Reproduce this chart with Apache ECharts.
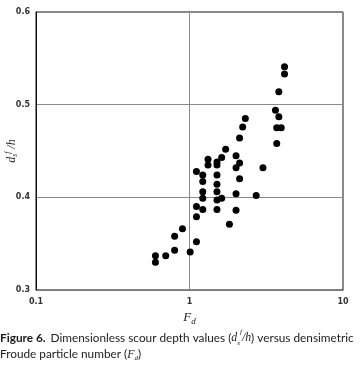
<!DOCTYPE html>
<html>
<head>
<meta charset="utf-8">
<script src="https://cdn.jsdelivr.net/npm/echarts@6/dist/echarts.min.js"></script>
<style>
  html, body { margin: 0; padding: 0; background: #fff; }
  #chart { width: 363px; height: 368px; }
</style>
</head>
<body>
<div id="chart"></div>
<script>
// densimetric Froude number (Fd) and scour depth ratio (ds/h)
var fdValues = [
  4.16, 4.16, 3.82, 3.63, 3.82, 3.70, 3.96, 3.70,
  2.31, 2.22, 2.12, 1.72, 1.62, 2.01, 1.32, 1.32,
  1.51, 1.51, 2.12, 2.01, 3.01, 1.11, 1.22, 1.51,
  1.22, 2.12, 1.51, 1.22, 1.51, 2.01, 2.72, 1.22,
  1.51, 1.62, 1.11, 1.22, 1.51, 2.01, 1.11, 1.82,
  0.90, 0.80, 1.11, 0.80, 1.01, 0.70, 0.60, 0.60
]
var depthValues = [
  0.541, 0.533, 0.514, 0.494, 0.487, 0.475, 0.475, 0.458,
  0.485, 0.476, 0.464, 0.452, 0.443, 0.445, 0.441, 0.435,
  0.438, 0.435, 0.437, 0.432, 0.432, 0.428, 0.424, 0.424,
  0.417, 0.420, 0.414, 0.406, 0.406, 0.404, 0.402, 0.399,
  0.397, 0.399, 0.390, 0.387, 0.387, 0.386, 0.379, 0.371,
  0.366, 0.358, 0.352, 0.343, 0.341, 0.337, 0.337, 0.330
]
var yTicks = [0.3, 0.4, 0.5, 0.6]

var points = fdValues.map(function (fd, i) {
  return [fd, depthValues[i]]
})

var myChart = echarts.init(document.getElementById('chart'))
var option = {
  animation: false,
  backgroundColor: '#fff',
  title: {
    left: 0,
    top: 329,
    padding: 0,
    text: '{b|Figure 6.} {n|Dimensionless scour depth values (}{i|d}{sub|s}{sup|f}{i|/h}{n|) versus densimetric}\n{n|Froude particle number (}{i|F}{sub|d}{n|)}',
    textStyle: {
      fontWeight: 'normal',
      rich: {
        b: { fontFamily: 'Lato', fontSize: 11.8, fontWeight: 'bold', color: '#1a1a1a', lineHeight: 15 },
        n: { fontFamily: 'Lato', fontSize: 11.8, fontWeight: 'normal', color: '#222', lineHeight: 15 },
        i: { fontFamily: 'Liberation Serif', fontStyle: 'italic', fontWeight: 'normal', fontSize: 11.8, color: '#222', lineHeight: 15 },
        sub: { fontFamily: 'Liberation Serif', fontStyle: 'italic', fontWeight: 'normal', fontSize: 7, color: '#222', lineHeight: 15, verticalAlign: 'bottom' },
        sup: { fontFamily: 'Liberation Serif', fontStyle: 'italic', fontWeight: 'normal', fontSize: 7, color: '#222', lineHeight: 15, verticalAlign: 'top' }
      }
    }
  },
  grid: {
    left: 36,
    right: 20,
    top: 12,
    bottom: 78,
    outerBoundsMode: 'none',
    show: true,
    borderColor: '#111',
    borderWidth: 1
  },
  xAxis: {
    type: 'log',
    logBase: 10,
    min: 0.1,
    max: 10,
    name: '{F|F}{d|d}',
    nameLocation: 'middle',
    nameGap: 20,
    nameMoveOverlap: false,
    nameTextStyle: {
      rich: {
        F: { fontFamily: 'Liberation Serif', fontStyle: 'italic', fontSize: 13, color: '#222', lineHeight: 16 },
        d: { fontFamily: 'Liberation Serif', fontStyle: 'italic', fontSize: 9, color: '#222', lineHeight: 16, verticalAlign: 'bottom' }
      }
    },
    axisLine: { show: true, lineStyle: { color: '#777' } },
    axisTick: { show: false },
    axisLabel: {
      margin: 8,
      fontSize: 8,
      fontWeight: 'bold',
      fontFamily: 'DejaVu Sans',
      color: '#333',
      formatter: function (v) { return String(+v.toFixed(1)) }
    },
    splitLine: { show: true, lineStyle: { color: '#8a8a8a', width: 1 } },
    minorTick: { show: false },
    minorSplitLine: { show: false }
  },
  yAxis: {
    type: 'value',
    min: 0.3,
    max: 0.6,
    interval: 0.1,
    name: '{i|d}{sub|s}{sup|f}{i| /h}',
    nameLocation: 'middle',
    nameGap: 17,
    nameMoveOverlap: false,
    nameTextStyle: {
      rich: {
        i: { fontFamily: 'Liberation Serif', fontStyle: 'italic', fontSize: 12, color: '#222', lineHeight: 15 },
        sub: { fontFamily: 'Liberation Serif', fontStyle: 'italic', fontSize: 7.5, color: '#222', lineHeight: 15, verticalAlign: 'bottom' },
        sup: { fontFamily: 'Liberation Serif', fontStyle: 'italic', fontSize: 7.5, color: '#222', lineHeight: 15, verticalAlign: 'top' }
      }
    },
    axisLine: { show: true, lineStyle: { color: '#111' } },
    axisTick: { show: false },
    axisLabel: {
      margin: 6,
      fontSize: 8,
      fontWeight: 'bold',
      fontFamily: 'DejaVu Sans',
      color: '#333',
      customValues: yTicks,
      formatter: function (v) { return v.toFixed(1) }
    },
    splitLine: { show: true, lineStyle: { color: '#8a8a8a', width: 1 } }
  },
  series: [
    {
      type: 'scatter',
      data: points,
      symbol: 'circle',
      symbolSize: 7,
      itemStyle: { color: '#000', opacity: 1 }
    }
  ]
}
myChart.setOption(option)
</script>
</body>
</html>
